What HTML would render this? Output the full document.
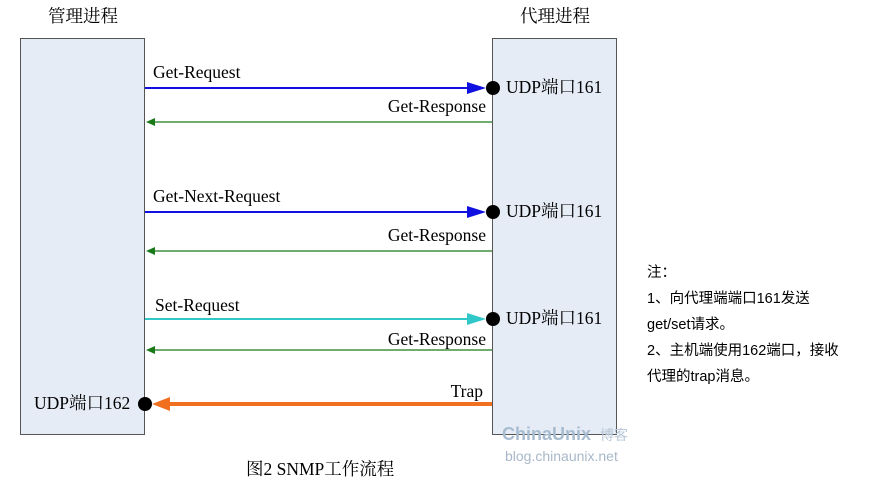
<!DOCTYPE html>
<html><head><meta charset="utf-8"><style>
body{margin:0;background:#fff;width:882px;height:490px;overflow:hidden}
svg{display:block}
.s{font-family:"Liberation Serif","Noto Serif CJK SC",serif;font-size:17.5px;fill:#000}
.c{font-family:"Liberation Sans","Noto Sans CJK SC",sans-serif;font-size:14.5px;fill:#000}
</style></head><body>
<svg width="882" height="490" xmlns="http://www.w3.org/2000/svg">
<text class="s" x="48" y="22">管理进程</text>
<text class="s" x="520" y="22">代理进程</text>
<rect x="20.5" y="38.5" width="124" height="396" fill="#e6ecf6" stroke="#555"/>
<rect x="492.5" y="38.5" width="124" height="396" fill="#e6ecf6" stroke="#555"/>
<line x1="145" y1="88" x2="470" y2="88" stroke="#1010e0" stroke-width="2"/>
<path d="M467,82L486,88L467,94z" fill="#1010e0"/>
<circle cx="493" cy="88" r="7" fill="#000"/>
<text class="s" x="153" y="78">Get-Request</text>
<text class="s" x="506" y="93">UDP端口161</text>
<line x1="492" y1="122" x2="150" y2="122" stroke="#1a7a1a" stroke-width="1.2"/>
<path d="M146,122L155,118L155,126z" fill="#1a7a1a"/>
<text class="s" x="486" y="112" text-anchor="end">Get-Response</text>
<line x1="145" y1="212" x2="470" y2="212" stroke="#1010e0" stroke-width="2"/>
<path d="M467,206L486,212L467,218z" fill="#1010e0"/>
<circle cx="493" cy="212" r="7" fill="#000"/>
<text class="s" x="153" y="202">Get-Next-Request</text>
<text class="s" x="506" y="217">UDP端口161</text>
<line x1="492" y1="251" x2="150" y2="251" stroke="#1a7a1a" stroke-width="1.2"/>
<path d="M146,251L155,247L155,255z" fill="#1a7a1a"/>
<text class="s" x="486" y="241" text-anchor="end">Get-Response</text>
<line x1="145" y1="319" x2="470" y2="319" stroke="#30c8c8" stroke-width="2"/>
<path d="M467,313L486,319L467,325z" fill="#30c8c8"/>
<circle cx="493" cy="319" r="7" fill="#000"/>
<text class="s" x="155" y="311">Set-Request</text>
<text class="s" x="506" y="324">UDP端口161</text>
<line x1="492" y1="350" x2="150" y2="350" stroke="#1a7a1a" stroke-width="1.2"/>
<path d="M146,350L155,346L155,354z" fill="#1a7a1a"/>
<text class="s" x="486" y="345" text-anchor="end">Get-Response</text>
<line x1="492" y1="404" x2="165" y2="404" stroke="#f07020" stroke-width="4"/>
<path d="M152,404L170,397L170,411z" fill="#f07020"/>
<circle cx="145" cy="404" r="7" fill="#000"/>
<text class="s" x="483" y="397" text-anchor="end">Trap</text>
<text class="s" x="34" y="409">UDP端口162</text>
<text class="c" x="647" y="277">注：</text>
<text class="c" x="647" y="303">1、向代理端端口161发送</text>
<text class="c" x="647" y="329">get/set请求。</text>
<text class="c" x="647" y="355">2、主机端使用162端口，接收</text>
<text class="c" x="647" y="381">代理的trap消息。</text>
<text x="502" y="440" style="font-family:'Liberation Sans',sans-serif;font-size:18px;font-weight:bold;fill:#a8bcd0">ChinaUnix</text>
<text x="600" y="440" style="font-family:'Noto Sans CJK SC',sans-serif;font-size:14px;fill:#b8c8d8">博客</text>
<text x="505" y="461" style="font-family:'Liberation Sans',sans-serif;font-size:14px;fill:#a8b8c8">blog.chinaunix.net</text>
<text class="s" x="246" y="475">图2 SNMP工作流程</text>
</svg>
</body></html>
